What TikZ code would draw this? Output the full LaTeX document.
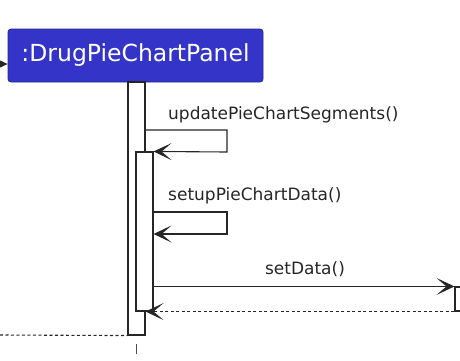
\documentclass[tikz,border=0pt]{standalone}
\usepackage{fontspec}
\setmainfont{DejaVu Sans}
\usetikzlibrary{arrows.meta,positioning}

\definecolor{objblue}{RGB}{52,52,200}
\definecolor{objedge}{RGB}{40,40,150}

\tikzset{
  object/.style={draw=objedge,fill=objblue,rounded corners=3pt,line width=0.8pt,
                 text=white,minimum width=255pt,minimum height=53pt,inner sep=0pt,
                 font=\fontsize{23.5}{26}\selectfont},
  bar/.style={draw=black!85,fill=white,line width=1.1pt,minimum width=17pt,inner sep=0pt},
  msg/.style={draw=black!85,line width=1.1pt,-{Stealth[length=18pt,width=17pt,inset=10pt]}},
  reply/.style={msg,dashed,dash pattern=on 3pt off 2.5pt},
  lbl/.style={text=black!85,font=\fontsize{17}{20}\selectfont,inner sep=0pt}
}

\begin{document}
\begin{tikzpicture}[x=1pt,y=-1pt]
    \useasboundingbox (0,0) rectangle (460,360);

    % object box and its activations
    \node[object]                    (panel)  at (135.5,55.5)  {:DrugPieChartPanel};
    \node[bar,minimum height=253pt]  (act1)   at (136.5,208.5) {};
    \node[bar,minimum height=159pt]  (act2)   at (144.5,231.5) {};
    \node[bar,minimum height=24pt]   (chart)  at (463.5,299)   {};

    \coordinate (caller) at (0,64);
    \coordinate (back)   at (0,335);
    \coordinate (lifeend) at (136.5,354);

    % incoming call and its return
    \draw[msg] (caller) -- (panel.west |- caller);
    \draw[reply,-] (back) -- (act1.south west);

    % self calls
    \draw[msg] (act1.east |- 0,130) -- (227,130) -- (227,152) -- (act2.north east);
    \node[lbl,anchor=west] (upd) at (168,115) {updatePieChartSegments()};
    \draw[msg] (act2.east |- 0,212) -- (227,212) -- (227,234) -- (act2.east |- 0,234);
    \node[lbl,anchor=west] (setup) at (168,196) {setupPieChartData()};

    % call out to the chart
    \draw[msg] (act2.east |- chart.north) -- (chart.north west);
    \node[lbl] (setdata) at (305,269) {setData()};
    \draw[reply] (chart.south west) -- (act1.east |- chart.south);

    % lifeline below
    \draw[black!70,line width=0.8pt,dash pattern=on 0pt off 8pt on 11pt] (act1.south) -- (lifeend);
\end{tikzpicture}
\end{document}
